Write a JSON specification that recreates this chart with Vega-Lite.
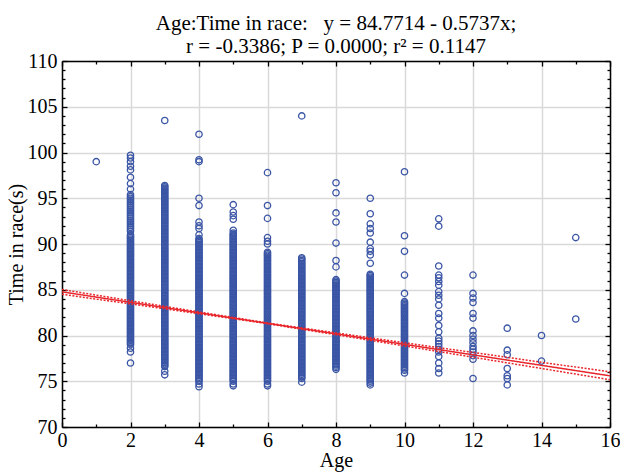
{
  "$schema": "https://vega.github.io/schema/vega-lite/v6.json",
  "width": 548,
  "height": 366,
  "autosize": {"type": "none"},
  "padding": {"left": 62, "top": 61, "right": 10, "bottom": 46},
  "background": "white",
  "config": {"font": "Liberation Serif", "view": {"stroke": null}},
  "title": {
    "text": ["Age:Time in race:\u00a0\u00a0 y = 84.7714 - 0.5737x;", "r = -0.3386; P = 0.0000; r\u00b2 = 0.1147"],
    "fontSize": 21, "fontWeight": "normal", "color": "black", "anchor": "middle", "frame": "group", "offset": -6, "lineHeight": 23, "font": "Liberation Serif"
  },
  "datasets": {
    "pts": [
      {"Age":1,"Time":99.0},
      {"Age":2,"Time":77.0},{"Age":2,"Time":78.2},{"Age":2,"Time":78.6},{"Age":2,"Time":79.0},{"Age":2,"Time":79.3},{"Age":2,"Time":79.6},{"Age":2,"Time":79.9},{"Age":2,"Time":80.2},{"Age":2,"Time":80.5},{"Age":2,"Time":80.8},{"Age":2,"Time":81.1},{"Age":2,"Time":81.4},{"Age":2,"Time":81.7},{"Age":2,"Time":82.0},{"Age":2,"Time":82.3},{"Age":2,"Time":82.6},{"Age":2,"Time":82.9},{"Age":2,"Time":83.2},{"Age":2,"Time":83.5},{"Age":2,"Time":83.8},{"Age":2,"Time":84.1},{"Age":2,"Time":84.4},{"Age":2,"Time":84.7},{"Age":2,"Time":85.0},{"Age":2,"Time":85.3},{"Age":2,"Time":85.6},{"Age":2,"Time":85.9},{"Age":2,"Time":86.2},{"Age":2,"Time":86.5},{"Age":2,"Time":86.8},{"Age":2,"Time":87.1},{"Age":2,"Time":87.4},{"Age":2,"Time":87.7},{"Age":2,"Time":88.0},{"Age":2,"Time":88.3},{"Age":2,"Time":88.6},{"Age":2,"Time":88.9},{"Age":2,"Time":89.2},{"Age":2,"Time":89.5},{"Age":2,"Time":89.8},{"Age":2,"Time":90.1},{"Age":2,"Time":90.4},{"Age":2,"Time":90.7},{"Age":2,"Time":91.0},{"Age":2,"Time":91.4},{"Age":2,"Time":91.8},{"Age":2,"Time":92.2},{"Age":2,"Time":92.6},{"Age":2,"Time":93.0},{"Age":2,"Time":93.4},{"Age":2,"Time":93.8},{"Age":2,"Time":94.2},{"Age":2,"Time":94.6},{"Age":2,"Time":95.0},{"Age":2,"Time":95.4},{"Age":2,"Time":96.0},{"Age":2,"Time":96.6},{"Age":2,"Time":97.3},{"Age":2,"Time":98.1},{"Age":2,"Time":98.5},{"Age":2,"Time":99.0},{"Age":2,"Time":99.4},{"Age":2,"Time":99.7},
      {"Age":2,"Time":79.15},{"Age":2,"Time":79.45},{"Age":2,"Time":79.75},{"Age":2,"Time":80.05},{"Age":2,"Time":80.35},{"Age":2,"Time":80.65},{"Age":2,"Time":80.95},{"Age":2,"Time":81.25},{"Age":2,"Time":81.55},{"Age":2,"Time":81.85},{"Age":2,"Time":82.15},{"Age":2,"Time":82.45},{"Age":2,"Time":82.75},{"Age":2,"Time":83.05},{"Age":2,"Time":83.35},{"Age":2,"Time":83.65},{"Age":2,"Time":83.95},{"Age":2,"Time":84.25},{"Age":2,"Time":84.55},{"Age":2,"Time":84.85},{"Age":2,"Time":85.15},{"Age":2,"Time":85.45},{"Age":2,"Time":85.75},{"Age":2,"Time":86.05},{"Age":2,"Time":86.35},{"Age":2,"Time":86.65},{"Age":2,"Time":86.95},{"Age":2,"Time":87.25},{"Age":2,"Time":87.55},{"Age":2,"Time":87.85},{"Age":2,"Time":88.15},{"Age":2,"Time":88.45},{"Age":2,"Time":88.75},{"Age":2,"Time":89.05},{"Age":2,"Time":89.35},{"Age":2,"Time":89.65},{"Age":2,"Time":89.95},{"Age":2,"Time":90.25},{"Age":2,"Time":90.55},{"Age":2,"Time":90.85},{"Age":2,"Time":91.6},{"Age":2,"Time":92.0},{"Age":2,"Time":92.4},{"Age":2,"Time":92.8},{"Age":2,"Time":93.2},{"Age":2,"Time":93.6},{"Age":2,"Time":94.0},{"Age":2,"Time":94.4},{"Age":2,"Time":94.8},{"Age":2,"Time":95.2},
      {"Age":3,"Time":75.7},{"Age":3,"Time":76.1},{"Age":3,"Time":76.6},{"Age":3,"Time":76.9},{"Age":3,"Time":77.2},{"Age":3,"Time":77.5},{"Age":3,"Time":77.8},{"Age":3,"Time":78.1},{"Age":3,"Time":78.4},{"Age":3,"Time":78.7},{"Age":3,"Time":79.0},{"Age":3,"Time":79.3},{"Age":3,"Time":79.6},{"Age":3,"Time":79.9},{"Age":3,"Time":80.2},{"Age":3,"Time":80.5},{"Age":3,"Time":80.8},{"Age":3,"Time":81.1},{"Age":3,"Time":81.4},{"Age":3,"Time":81.7},{"Age":3,"Time":82.0},{"Age":3,"Time":82.3},{"Age":3,"Time":82.6},{"Age":3,"Time":82.9},{"Age":3,"Time":83.2},{"Age":3,"Time":83.5},{"Age":3,"Time":83.8},{"Age":3,"Time":84.1},{"Age":3,"Time":84.4},{"Age":3,"Time":84.7},{"Age":3,"Time":85.0},{"Age":3,"Time":85.3},{"Age":3,"Time":85.6},{"Age":3,"Time":85.9},{"Age":3,"Time":86.2},{"Age":3,"Time":86.5},{"Age":3,"Time":86.8},{"Age":3,"Time":87.1},{"Age":3,"Time":87.4},{"Age":3,"Time":87.7},{"Age":3,"Time":88.0},{"Age":3,"Time":88.3},{"Age":3,"Time":88.6},{"Age":3,"Time":88.9},{"Age":3,"Time":89.2},{"Age":3,"Time":89.5},{"Age":3,"Time":89.8},{"Age":3,"Time":90.1},{"Age":3,"Time":90.4},{"Age":3,"Time":90.7},{"Age":3,"Time":91.0},{"Age":3,"Time":91.3},{"Age":3,"Time":91.6},{"Age":3,"Time":91.9},{"Age":3,"Time":92.2},{"Age":3,"Time":92.5},{"Age":3,"Time":92.8},{"Age":3,"Time":93.1},{"Age":3,"Time":93.4},{"Age":3,"Time":93.7},{"Age":3,"Time":94.0},{"Age":3,"Time":94.3},{"Age":3,"Time":94.6},{"Age":3,"Time":94.9},{"Age":3,"Time":95.2},{"Age":3,"Time":95.5},{"Age":3,"Time":95.8},{"Age":3,"Time":96.1},{"Age":3,"Time":96.4},{"Age":3,"Time":103.5},
      {"Age":3,"Time":76.75},{"Age":3,"Time":77.05},{"Age":3,"Time":77.35},{"Age":3,"Time":77.65},{"Age":3,"Time":77.95},{"Age":3,"Time":78.25},{"Age":3,"Time":78.55},{"Age":3,"Time":78.85},{"Age":3,"Time":79.15},{"Age":3,"Time":79.45},{"Age":3,"Time":79.75},{"Age":3,"Time":80.05},{"Age":3,"Time":80.35},{"Age":3,"Time":80.65},{"Age":3,"Time":80.95},{"Age":3,"Time":81.25},{"Age":3,"Time":81.55},{"Age":3,"Time":81.85},{"Age":3,"Time":82.15},{"Age":3,"Time":82.45},{"Age":3,"Time":82.75},{"Age":3,"Time":83.05},{"Age":3,"Time":83.35},{"Age":3,"Time":83.65},{"Age":3,"Time":83.95},{"Age":3,"Time":84.25},{"Age":3,"Time":84.55},{"Age":3,"Time":84.85},{"Age":3,"Time":85.15},{"Age":3,"Time":85.45},{"Age":3,"Time":85.75},{"Age":3,"Time":86.05},{"Age":3,"Time":86.35},{"Age":3,"Time":86.65},{"Age":3,"Time":86.95},{"Age":3,"Time":87.25},{"Age":3,"Time":87.55},{"Age":3,"Time":87.85},{"Age":3,"Time":88.15},{"Age":3,"Time":88.45},{"Age":3,"Time":88.75},{"Age":3,"Time":89.05},{"Age":3,"Time":89.35},{"Age":3,"Time":89.65},{"Age":3,"Time":89.95},{"Age":3,"Time":90.25},{"Age":3,"Time":90.55},{"Age":3,"Time":90.85},{"Age":3,"Time":91.15},{"Age":3,"Time":91.45},{"Age":3,"Time":91.75},{"Age":3,"Time":92.05},{"Age":3,"Time":92.35},{"Age":3,"Time":92.65},{"Age":3,"Time":92.95},{"Age":3,"Time":93.25},{"Age":3,"Time":93.55},{"Age":3,"Time":93.85},{"Age":3,"Time":94.15},{"Age":3,"Time":94.45},{"Age":3,"Time":94.75},{"Age":3,"Time":95.05},{"Age":3,"Time":95.35},{"Age":3,"Time":95.65},{"Age":3,"Time":95.95},{"Age":3,"Time":96.25},
      {"Age":4,"Time":74.4},{"Age":4,"Time":74.7},{"Age":4,"Time":75.0},{"Age":4,"Time":75.3},{"Age":4,"Time":75.6},{"Age":4,"Time":75.9},{"Age":4,"Time":76.2},{"Age":4,"Time":76.5},{"Age":4,"Time":76.8},{"Age":4,"Time":77.1},{"Age":4,"Time":77.4},{"Age":4,"Time":77.7},{"Age":4,"Time":78.0},{"Age":4,"Time":78.3},{"Age":4,"Time":78.6},{"Age":4,"Time":78.9},{"Age":4,"Time":79.2},{"Age":4,"Time":79.5},{"Age":4,"Time":79.8},{"Age":4,"Time":80.1},{"Age":4,"Time":80.4},{"Age":4,"Time":80.7},{"Age":4,"Time":81.0},{"Age":4,"Time":81.3},{"Age":4,"Time":81.6},{"Age":4,"Time":81.9},{"Age":4,"Time":82.2},{"Age":4,"Time":82.5},{"Age":4,"Time":82.8},{"Age":4,"Time":83.1},{"Age":4,"Time":83.4},{"Age":4,"Time":83.7},{"Age":4,"Time":84.0},{"Age":4,"Time":84.3},{"Age":4,"Time":84.6},{"Age":4,"Time":84.9},{"Age":4,"Time":85.2},{"Age":4,"Time":85.5},{"Age":4,"Time":85.8},{"Age":4,"Time":86.1},{"Age":4,"Time":86.4},{"Age":4,"Time":86.7},{"Age":4,"Time":87.0},{"Age":4,"Time":87.3},{"Age":4,"Time":87.6},{"Age":4,"Time":87.9},{"Age":4,"Time":88.2},{"Age":4,"Time":88.5},{"Age":4,"Time":88.8},{"Age":4,"Time":89.1},{"Age":4,"Time":89.4},{"Age":4,"Time":89.7},{"Age":4,"Time":90.0},{"Age":4,"Time":90.3},{"Age":4,"Time":90.6},{"Age":4,"Time":91.0},{"Age":4,"Time":91.7},{"Age":4,"Time":92.0},{"Age":4,"Time":92.4},{"Age":4,"Time":94.2},{"Age":4,"Time":95.0},{"Age":4,"Time":99.0},{"Age":4,"Time":99.2},{"Age":4,"Time":102.0},
      {"Age":4,"Time":75.15},{"Age":4,"Time":75.45},{"Age":4,"Time":75.75},{"Age":4,"Time":76.05},{"Age":4,"Time":76.35},{"Age":4,"Time":76.65},{"Age":4,"Time":76.95},{"Age":4,"Time":77.25},{"Age":4,"Time":77.55},{"Age":4,"Time":77.85},{"Age":4,"Time":78.15},{"Age":4,"Time":78.45},{"Age":4,"Time":78.75},{"Age":4,"Time":79.05},{"Age":4,"Time":79.35},{"Age":4,"Time":79.65},{"Age":4,"Time":79.95},{"Age":4,"Time":80.25},{"Age":4,"Time":80.55},{"Age":4,"Time":80.85},{"Age":4,"Time":81.15},{"Age":4,"Time":81.45},{"Age":4,"Time":81.75},{"Age":4,"Time":82.05},{"Age":4,"Time":82.35},{"Age":4,"Time":82.65},{"Age":4,"Time":82.95},{"Age":4,"Time":83.25},{"Age":4,"Time":83.55},{"Age":4,"Time":83.85},{"Age":4,"Time":84.15},{"Age":4,"Time":84.45},{"Age":4,"Time":84.75},{"Age":4,"Time":85.05},{"Age":4,"Time":85.35},{"Age":4,"Time":85.65},{"Age":4,"Time":85.95},{"Age":4,"Time":86.25},{"Age":4,"Time":86.55},{"Age":4,"Time":86.85},{"Age":4,"Time":87.15},{"Age":4,"Time":87.45},{"Age":4,"Time":87.75},{"Age":4,"Time":88.05},{"Age":4,"Time":88.35},{"Age":4,"Time":88.65},{"Age":4,"Time":88.95},{"Age":4,"Time":89.25},{"Age":4,"Time":89.55},{"Age":4,"Time":89.85},{"Age":4,"Time":90.15},{"Age":4,"Time":90.45},
      {"Age":5,"Time":74.5},{"Age":5,"Time":74.7},{"Age":5,"Time":75.0},{"Age":5,"Time":75.3},{"Age":5,"Time":75.6},{"Age":5,"Time":75.9},{"Age":5,"Time":76.2},{"Age":5,"Time":76.5},{"Age":5,"Time":76.8},{"Age":5,"Time":77.1},{"Age":5,"Time":77.4},{"Age":5,"Time":77.7},{"Age":5,"Time":78.0},{"Age":5,"Time":78.3},{"Age":5,"Time":78.6},{"Age":5,"Time":78.9},{"Age":5,"Time":79.2},{"Age":5,"Time":79.5},{"Age":5,"Time":79.8},{"Age":5,"Time":80.1},{"Age":5,"Time":80.4},{"Age":5,"Time":80.7},{"Age":5,"Time":81.0},{"Age":5,"Time":81.3},{"Age":5,"Time":81.6},{"Age":5,"Time":81.9},{"Age":5,"Time":82.2},{"Age":5,"Time":82.5},{"Age":5,"Time":82.8},{"Age":5,"Time":83.1},{"Age":5,"Time":83.4},{"Age":5,"Time":83.7},{"Age":5,"Time":84.0},{"Age":5,"Time":84.3},{"Age":5,"Time":84.6},{"Age":5,"Time":84.9},{"Age":5,"Time":85.2},{"Age":5,"Time":85.5},{"Age":5,"Time":85.8},{"Age":5,"Time":86.1},{"Age":5,"Time":86.4},{"Age":5,"Time":86.7},{"Age":5,"Time":87.0},{"Age":5,"Time":87.3},{"Age":5,"Time":87.6},{"Age":5,"Time":87.9},{"Age":5,"Time":88.2},{"Age":5,"Time":88.5},{"Age":5,"Time":88.8},{"Age":5,"Time":89.1},{"Age":5,"Time":89.4},{"Age":5,"Time":89.7},{"Age":5,"Time":90.0},{"Age":5,"Time":90.3},{"Age":5,"Time":90.6},{"Age":5,"Time":90.9},{"Age":5,"Time":91.2},{"Age":5,"Time":91.5},{"Age":5,"Time":92.7},{"Age":5,"Time":93.1},{"Age":5,"Time":93.5},{"Age":5,"Time":94.3},
      {"Age":5,"Time":75.15},{"Age":5,"Time":75.45},{"Age":5,"Time":75.75},{"Age":5,"Time":76.05},{"Age":5,"Time":76.35},{"Age":5,"Time":76.65},{"Age":5,"Time":76.95},{"Age":5,"Time":77.25},{"Age":5,"Time":77.55},{"Age":5,"Time":77.85},{"Age":5,"Time":78.15},{"Age":5,"Time":78.45},{"Age":5,"Time":78.75},{"Age":5,"Time":79.05},{"Age":5,"Time":79.35},{"Age":5,"Time":79.65},{"Age":5,"Time":79.95},{"Age":5,"Time":80.25},{"Age":5,"Time":80.55},{"Age":5,"Time":80.85},{"Age":5,"Time":81.15},{"Age":5,"Time":81.45},{"Age":5,"Time":81.75},{"Age":5,"Time":82.05},{"Age":5,"Time":82.35},{"Age":5,"Time":82.65},{"Age":5,"Time":82.95},{"Age":5,"Time":83.25},{"Age":5,"Time":83.55},{"Age":5,"Time":83.85},{"Age":5,"Time":84.15},{"Age":5,"Time":84.45},{"Age":5,"Time":84.75},{"Age":5,"Time":85.05},{"Age":5,"Time":85.35},{"Age":5,"Time":85.65},{"Age":5,"Time":85.95},{"Age":5,"Time":86.25},{"Age":5,"Time":86.55},{"Age":5,"Time":86.85},{"Age":5,"Time":87.15},{"Age":5,"Time":87.45},{"Age":5,"Time":87.75},{"Age":5,"Time":88.05},{"Age":5,"Time":88.35},{"Age":5,"Time":88.65},{"Age":5,"Time":88.95},{"Age":5,"Time":89.25},{"Age":5,"Time":89.55},{"Age":5,"Time":89.85},{"Age":5,"Time":90.15},{"Age":5,"Time":90.45},{"Age":5,"Time":90.75},{"Age":5,"Time":91.05},
      {"Age":6,"Time":74.5},{"Age":6,"Time":74.7},{"Age":6,"Time":75.0},{"Age":6,"Time":75.3},{"Age":6,"Time":75.6},{"Age":6,"Time":75.9},{"Age":6,"Time":76.2},{"Age":6,"Time":76.5},{"Age":6,"Time":76.8},{"Age":6,"Time":77.1},{"Age":6,"Time":77.4},{"Age":6,"Time":77.7},{"Age":6,"Time":78.0},{"Age":6,"Time":78.3},{"Age":6,"Time":78.6},{"Age":6,"Time":78.9},{"Age":6,"Time":79.2},{"Age":6,"Time":79.5},{"Age":6,"Time":79.8},{"Age":6,"Time":80.1},{"Age":6,"Time":80.4},{"Age":6,"Time":80.7},{"Age":6,"Time":81.0},{"Age":6,"Time":81.3},{"Age":6,"Time":81.6},{"Age":6,"Time":81.9},{"Age":6,"Time":82.2},{"Age":6,"Time":82.5},{"Age":6,"Time":82.8},{"Age":6,"Time":83.1},{"Age":6,"Time":83.4},{"Age":6,"Time":83.7},{"Age":6,"Time":84.0},{"Age":6,"Time":84.3},{"Age":6,"Time":84.6},{"Age":6,"Time":84.9},{"Age":6,"Time":85.2},{"Age":6,"Time":85.5},{"Age":6,"Time":85.8},{"Age":6,"Time":86.1},{"Age":6,"Time":86.4},{"Age":6,"Time":86.7},{"Age":6,"Time":87.0},{"Age":6,"Time":87.3},{"Age":6,"Time":87.6},{"Age":6,"Time":87.9},{"Age":6,"Time":88.2},{"Age":6,"Time":88.5},{"Age":6,"Time":88.8},{"Age":6,"Time":89.1},{"Age":6,"Time":90.0},{"Age":6,"Time":90.3},{"Age":6,"Time":90.7},{"Age":6,"Time":92.8},{"Age":6,"Time":94.2},{"Age":6,"Time":97.8},
      {"Age":6,"Time":75.15},{"Age":6,"Time":75.45},{"Age":6,"Time":75.75},{"Age":6,"Time":76.05},{"Age":6,"Time":76.35},{"Age":6,"Time":76.65},{"Age":6,"Time":76.95},{"Age":6,"Time":77.25},{"Age":6,"Time":77.55},{"Age":6,"Time":77.85},{"Age":6,"Time":78.15},{"Age":6,"Time":78.45},{"Age":6,"Time":78.75},{"Age":6,"Time":79.05},{"Age":6,"Time":79.35},{"Age":6,"Time":79.65},{"Age":6,"Time":79.95},{"Age":6,"Time":80.25},{"Age":6,"Time":80.55},{"Age":6,"Time":80.85},{"Age":6,"Time":81.15},{"Age":6,"Time":81.45},{"Age":6,"Time":81.75},{"Age":6,"Time":82.05},{"Age":6,"Time":82.35},{"Age":6,"Time":82.65},{"Age":6,"Time":82.95},{"Age":6,"Time":83.25},{"Age":6,"Time":83.55},{"Age":6,"Time":83.85},{"Age":6,"Time":84.15},{"Age":6,"Time":84.45},{"Age":6,"Time":84.75},{"Age":6,"Time":85.05},{"Age":6,"Time":85.35},{"Age":6,"Time":85.65},{"Age":6,"Time":85.95},{"Age":6,"Time":86.25},{"Age":6,"Time":86.55},{"Age":6,"Time":86.85},{"Age":6,"Time":87.15},{"Age":6,"Time":87.45},{"Age":6,"Time":87.75},{"Age":6,"Time":88.05},{"Age":6,"Time":88.35},{"Age":6,"Time":88.65},{"Age":6,"Time":88.95},
      {"Age":7,"Time":74.9},{"Age":7,"Time":75.3},{"Age":7,"Time":75.6},{"Age":7,"Time":75.9},{"Age":7,"Time":76.2},{"Age":7,"Time":76.5},{"Age":7,"Time":76.8},{"Age":7,"Time":77.1},{"Age":7,"Time":77.4},{"Age":7,"Time":77.7},{"Age":7,"Time":78.0},{"Age":7,"Time":78.3},{"Age":7,"Time":78.6},{"Age":7,"Time":78.9},{"Age":7,"Time":79.2},{"Age":7,"Time":79.5},{"Age":7,"Time":79.8},{"Age":7,"Time":80.1},{"Age":7,"Time":80.4},{"Age":7,"Time":80.7},{"Age":7,"Time":81.0},{"Age":7,"Time":81.3},{"Age":7,"Time":81.6},{"Age":7,"Time":81.9},{"Age":7,"Time":82.2},{"Age":7,"Time":82.5},{"Age":7,"Time":82.8},{"Age":7,"Time":83.1},{"Age":7,"Time":83.4},{"Age":7,"Time":83.7},{"Age":7,"Time":84.0},{"Age":7,"Time":84.3},{"Age":7,"Time":84.6},{"Age":7,"Time":84.9},{"Age":7,"Time":85.2},{"Age":7,"Time":85.5},{"Age":7,"Time":85.8},{"Age":7,"Time":86.1},{"Age":7,"Time":86.4},{"Age":7,"Time":86.7},{"Age":7,"Time":87.0},{"Age":7,"Time":87.3},{"Age":7,"Time":87.6},{"Age":7,"Time":87.9},{"Age":7,"Time":88.2},{"Age":7,"Time":88.5},{"Age":7,"Time":104.0},
      {"Age":7,"Time":75.45},{"Age":7,"Time":75.75},{"Age":7,"Time":76.05},{"Age":7,"Time":76.35},{"Age":7,"Time":76.65},{"Age":7,"Time":76.95},{"Age":7,"Time":77.25},{"Age":7,"Time":77.55},{"Age":7,"Time":77.85},{"Age":7,"Time":78.15},{"Age":7,"Time":78.45},{"Age":7,"Time":78.75},{"Age":7,"Time":79.05},{"Age":7,"Time":79.35},{"Age":7,"Time":79.65},{"Age":7,"Time":79.95},{"Age":7,"Time":80.25},{"Age":7,"Time":80.55},{"Age":7,"Time":80.85},{"Age":7,"Time":81.15},{"Age":7,"Time":81.45},{"Age":7,"Time":81.75},{"Age":7,"Time":82.05},{"Age":7,"Time":82.35},{"Age":7,"Time":82.65},{"Age":7,"Time":82.95},{"Age":7,"Time":83.25},{"Age":7,"Time":83.55},{"Age":7,"Time":83.85},{"Age":7,"Time":84.15},{"Age":7,"Time":84.45},{"Age":7,"Time":84.75},{"Age":7,"Time":85.05},{"Age":7,"Time":85.35},{"Age":7,"Time":85.65},{"Age":7,"Time":85.95},{"Age":7,"Time":86.25},{"Age":7,"Time":86.55},{"Age":7,"Time":86.85},{"Age":7,"Time":87.15},{"Age":7,"Time":87.45},{"Age":7,"Time":87.75},{"Age":7,"Time":88.05},{"Age":7,"Time":88.35},
      {"Age":8,"Time":76.3},{"Age":8,"Time":76.5},{"Age":8,"Time":76.8},{"Age":8,"Time":77.1},{"Age":8,"Time":77.4},{"Age":8,"Time":77.7},{"Age":8,"Time":78.0},{"Age":8,"Time":78.3},{"Age":8,"Time":78.6},{"Age":8,"Time":78.9},{"Age":8,"Time":79.2},{"Age":8,"Time":79.5},{"Age":8,"Time":79.8},{"Age":8,"Time":80.1},{"Age":8,"Time":80.4},{"Age":8,"Time":80.7},{"Age":8,"Time":81.0},{"Age":8,"Time":81.3},{"Age":8,"Time":81.6},{"Age":8,"Time":81.9},{"Age":8,"Time":82.2},{"Age":8,"Time":82.5},{"Age":8,"Time":82.8},{"Age":8,"Time":83.1},{"Age":8,"Time":83.4},{"Age":8,"Time":83.7},{"Age":8,"Time":84.0},{"Age":8,"Time":84.3},{"Age":8,"Time":84.6},{"Age":8,"Time":84.9},{"Age":8,"Time":85.2},{"Age":8,"Time":85.5},{"Age":8,"Time":85.8},{"Age":8,"Time":86.1},{"Age":8,"Time":87.5},{"Age":8,"Time":88.2},{"Age":8,"Time":90.1},{"Age":8,"Time":92.4},{"Age":8,"Time":93.4},{"Age":8,"Time":95.6},{"Age":8,"Time":96.7},
      {"Age":8,"Time":76.65},{"Age":8,"Time":76.95},{"Age":8,"Time":77.25},{"Age":8,"Time":77.55},{"Age":8,"Time":77.85},{"Age":8,"Time":78.15},{"Age":8,"Time":78.45},{"Age":8,"Time":78.75},{"Age":8,"Time":79.05},{"Age":8,"Time":79.35},{"Age":8,"Time":79.65},{"Age":8,"Time":79.95},{"Age":8,"Time":80.25},{"Age":8,"Time":80.55},{"Age":8,"Time":80.85},{"Age":8,"Time":81.15},{"Age":8,"Time":81.45},{"Age":8,"Time":81.75},{"Age":8,"Time":82.05},{"Age":8,"Time":82.35},{"Age":8,"Time":82.65},{"Age":8,"Time":82.95},{"Age":8,"Time":83.25},{"Age":8,"Time":83.55},{"Age":8,"Time":83.85},{"Age":8,"Time":84.15},{"Age":8,"Time":84.45},{"Age":8,"Time":84.75},{"Age":8,"Time":85.05},{"Age":8,"Time":85.35},{"Age":8,"Time":85.65},{"Age":8,"Time":85.95},
      {"Age":9,"Time":74.6},{"Age":9,"Time":74.8},{"Age":9,"Time":75.0},{"Age":9,"Time":75.3},{"Age":9,"Time":75.6},{"Age":9,"Time":75.9},{"Age":9,"Time":76.2},{"Age":9,"Time":76.5},{"Age":9,"Time":76.8},{"Age":9,"Time":77.1},{"Age":9,"Time":77.4},{"Age":9,"Time":77.7},{"Age":9,"Time":78.0},{"Age":9,"Time":78.3},{"Age":9,"Time":78.6},{"Age":9,"Time":78.9},{"Age":9,"Time":79.2},{"Age":9,"Time":79.5},{"Age":9,"Time":79.8},{"Age":9,"Time":80.1},{"Age":9,"Time":80.4},{"Age":9,"Time":80.7},{"Age":9,"Time":81.0},{"Age":9,"Time":81.3},{"Age":9,"Time":81.6},{"Age":9,"Time":81.9},{"Age":9,"Time":82.2},{"Age":9,"Time":82.5},{"Age":9,"Time":82.8},{"Age":9,"Time":83.1},{"Age":9,"Time":83.4},{"Age":9,"Time":83.7},{"Age":9,"Time":84.0},{"Age":9,"Time":84.3},{"Age":9,"Time":84.6},{"Age":9,"Time":84.9},{"Age":9,"Time":85.2},{"Age":9,"Time":85.5},{"Age":9,"Time":85.8},{"Age":9,"Time":86.1},{"Age":9,"Time":86.4},{"Age":9,"Time":86.7},{"Age":9,"Time":87.9},{"Age":9,"Time":88.8},{"Age":9,"Time":89.2},{"Age":9,"Time":89.5},{"Age":9,"Time":90.2},{"Age":9,"Time":91.2},{"Age":9,"Time":91.7},{"Age":9,"Time":92.2},{"Age":9,"Time":93.3},{"Age":9,"Time":95.0},
      {"Age":9,"Time":75.15},{"Age":9,"Time":75.45},{"Age":9,"Time":75.75},{"Age":9,"Time":76.05},{"Age":9,"Time":76.35},{"Age":9,"Time":76.65},{"Age":9,"Time":76.95},{"Age":9,"Time":77.25},{"Age":9,"Time":77.55},{"Age":9,"Time":77.85},{"Age":9,"Time":78.15},{"Age":9,"Time":78.45},{"Age":9,"Time":78.75},{"Age":9,"Time":79.05},{"Age":9,"Time":79.35},{"Age":9,"Time":79.65},{"Age":9,"Time":79.95},{"Age":9,"Time":80.25},{"Age":9,"Time":80.55},{"Age":9,"Time":80.85},{"Age":9,"Time":81.15},{"Age":9,"Time":81.45},{"Age":9,"Time":81.75},{"Age":9,"Time":82.05},{"Age":9,"Time":82.35},{"Age":9,"Time":82.65},{"Age":9,"Time":82.95},{"Age":9,"Time":83.25},{"Age":9,"Time":83.55},{"Age":9,"Time":83.85},{"Age":9,"Time":84.15},{"Age":9,"Time":84.45},{"Age":9,"Time":84.75},{"Age":9,"Time":85.05},{"Age":9,"Time":85.35},{"Age":9,"Time":85.65},{"Age":9,"Time":85.95},{"Age":9,"Time":86.25},{"Age":9,"Time":86.55},
      {"Age":10,"Time":75.9},{"Age":10,"Time":76.2},{"Age":10,"Time":76.5},{"Age":10,"Time":76.8},{"Age":10,"Time":77.1},{"Age":10,"Time":77.4},{"Age":10,"Time":77.7},{"Age":10,"Time":78.0},{"Age":10,"Time":78.3},{"Age":10,"Time":78.6},{"Age":10,"Time":78.9},{"Age":10,"Time":79.2},{"Age":10,"Time":79.5},{"Age":10,"Time":79.8},{"Age":10,"Time":80.1},{"Age":10,"Time":80.4},{"Age":10,"Time":80.7},{"Age":10,"Time":81.0},{"Age":10,"Time":81.3},{"Age":10,"Time":81.6},{"Age":10,"Time":81.9},{"Age":10,"Time":82.2},{"Age":10,"Time":82.5},{"Age":10,"Time":82.8},{"Age":10,"Time":83.1},{"Age":10,"Time":83.4},{"Age":10,"Time":83.7},{"Age":10,"Time":84.6},{"Age":10,"Time":86.6},{"Age":10,"Time":89.2},{"Age":10,"Time":90.9},{"Age":10,"Time":97.9},
      {"Age":10,"Time":76.35},{"Age":10,"Time":76.65},{"Age":10,"Time":76.95},{"Age":10,"Time":77.25},{"Age":10,"Time":77.55},{"Age":10,"Time":77.85},{"Age":10,"Time":78.15},{"Age":10,"Time":78.45},{"Age":10,"Time":78.75},{"Age":10,"Time":79.05},{"Age":10,"Time":79.35},{"Age":10,"Time":79.65},{"Age":10,"Time":79.95},{"Age":10,"Time":80.25},{"Age":10,"Time":80.55},{"Age":10,"Time":80.85},{"Age":10,"Time":81.15},{"Age":10,"Time":81.45},{"Age":10,"Time":81.75},{"Age":10,"Time":82.05},{"Age":10,"Time":82.35},{"Age":10,"Time":82.65},{"Age":10,"Time":82.95},{"Age":10,"Time":83.25},{"Age":10,"Time":83.55},
      {"Age":11,"Time":75.9},{"Age":11,"Time":76.4},{"Age":11,"Time":77.0},{"Age":11,"Time":77.7},{"Age":11,"Time":78.2},{"Age":11,"Time":78.5},{"Age":11,"Time":78.8},{"Age":11,"Time":79.1},{"Age":11,"Time":79.4},{"Age":11,"Time":79.7},{"Age":11,"Time":80.4},{"Age":11,"Time":81.1},{"Age":11,"Time":81.9},{"Age":11,"Time":82.4},{"Age":11,"Time":83.3},{"Age":11,"Time":84.0},{"Age":11,"Time":84.4},{"Age":11,"Time":84.8},{"Age":11,"Time":85.5},{"Age":11,"Time":85.9},{"Age":11,"Time":86.3},{"Age":11,"Time":86.6},{"Age":11,"Time":87.6},{"Age":11,"Time":91.95},{"Age":11,"Time":92.75},
      {"Age":12,"Time":75.3},{"Age":12,"Time":77.4},{"Age":12,"Time":77.8},{"Age":12,"Time":78.2},{"Age":12,"Time":78.5},{"Age":12,"Time":78.8},{"Age":12,"Time":79.2},{"Age":12,"Time":79.6},{"Age":12,"Time":80.0},{"Age":12,"Time":80.5},{"Age":12,"Time":81.9},{"Age":12,"Time":82.4},{"Age":12,"Time":83.6},{"Age":12,"Time":84.1},{"Age":12,"Time":84.6},{"Age":12,"Time":86.6},
      {"Age":13,"Time":74.6},{"Age":13,"Time":75.3},{"Age":13,"Time":75.6},{"Age":13,"Time":76.4},{"Age":13,"Time":77.9},{"Age":13,"Time":78.4},{"Age":13,"Time":80.8},
      {"Age":14,"Time":77.2},{"Age":14,"Time":80.0},
      {"Age":15,"Time":81.8},{"Age":15,"Time":90.7}
    ],
    "lines": [
      {"Age":0,"Time":84.771,"s":"fit"},{"Age":16,"Time":75.592,"s":"fit"},
      {"Age":0,"Time":85.029,"s":"upper"},{"Age":2,"Time":83.799,"s":"upper"},{"Age":4,"Time":82.572,"s":"upper"},{"Age":6,"Time":81.374,"s":"upper"},{"Age":8,"Time":80.277,"s":"upper"},{"Age":10,"Time":79.209,"s":"upper"},{"Age":12,"Time":78.145,"s":"upper"},{"Age":14,"Time":77.081,"s":"upper"},{"Age":16,"Time":76.019,"s":"upper"},
      {"Age":0,"Time":84.513,"s":"lower"},{"Age":2,"Time":83.449,"s":"lower"},{"Age":4,"Time":82.380,"s":"lower"},{"Age":6,"Time":81.284,"s":"lower"},{"Age":8,"Time":80.085,"s":"lower"},{"Age":10,"Time":78.859,"s":"lower"},{"Age":12,"Time":77.629,"s":"lower"},{"Age":14,"Time":76.397,"s":"lower"},{"Age":16,"Time":75.165,"s":"lower"}
    ]
  },
  "layer": [
    {
      "data": {"name": "pts"},
      "mark": {"type": "point", "shape": "circle", "filled": false, "size": 40, "strokeWidth": 1.3, "color": "#3a55a5", "opacity": 1},
      "encoding": {
        "x": {
          "field": "Age", "type": "quantitative",
          "scale": {"domain": [0, 16], "nice": false, "zero": false},
          "axis": {
            "orient": "bottom", "title": "Age",
            "values": [0,1,2,3,4,5,6,7,8,9,10,11,12,13,14,15,16],
            "labelExpr": "datum.value % 2 == 0 ? datum.label : ''",
            "labelFont": "Liberation Serif", "labelFontSize": 20, "labelColor": "black", "labelPadding": 8, "labelFlush": false,
            "tickSize": {"condition": {"test": "datum.value % 2 == 0", "value": -5}, "value": -3},
            "tickColor": "black", "tickWidth": 1.3,
            "grid": true, "gridColor": "#d9d9d9", "gridWidth": 1.5,
            "gridOpacity": {"condition": {"test": "datum.value % 2 == 0", "value": 1}, "value": 0},
            "domainColor": "black", "domainWidth": 1.5,
            "titleFont": "Liberation Serif", "titleFontSize": 20, "titleFontWeight": "normal", "titleColor": "black", "titlePadding": 0
          }
        },
        "y": {
          "field": "Time", "type": "quantitative",
          "scale": {"domain": [70, 110], "nice": false, "zero": false},
          "axis": {
            "orient": "left", "title": "Time in race(s)",
            "values": [70,71,72,73,74,75,76,77,78,79,80,81,82,83,84,85,86,87,88,89,90,91,92,93,94,95,96,97,98,99,100,101,102,103,104,105,106,107,108,109,110],
            "labelExpr": "datum.value % 5 == 0 ? datum.label : ''",
            "labelFont": "Liberation Serif", "labelFontSize": 20, "labelColor": "black", "labelPadding": 10, "labelFlush": false,
            "tickSize": {"condition": {"test": "datum.value % 5 == 0", "value": -5}, "value": -3},
            "tickColor": "black", "tickWidth": 1.3,
            "grid": true, "gridColor": "#d9d9d9", "gridWidth": 1.5,
            "gridOpacity": {"condition": {"test": "datum.value % 5 == 0", "value": 1}, "value": 0},
            "domainColor": "black", "domainWidth": 1.5,
            "titleFont": "Liberation Serif", "titleFontSize": 20, "titleFontWeight": "normal", "titleColor": "black", "titlePadding": 1
          }
        }
      }
    },
    {
      "data": {"name": "lines"},
      "mark": {"type": "line", "color": "#e8262b", "strokeWidth": 1.5},
      "encoding": {
        "x": {
          "field": "Age", "type": "quantitative",
          "scale": {"domain": [0, 16], "nice": false, "zero": false},
          "axis": {
            "orient": "top", "title": null, "labels": false, "grid": false,
            "values": [0,1,2,3,4,5,6,7,8,9,10,11,12,13,14,15,16],
            "tickSize": {"condition": {"test": "datum.value % 2 == 0", "value": -5}, "value": -3},
            "tickColor": "black", "tickWidth": 1.3,
            "domainColor": "black", "domainWidth": 1.5
          }
        },
        "y": {
          "field": "Time", "type": "quantitative",
          "scale": {"domain": [70, 110], "nice": false, "zero": false},
          "axis": {
            "orient": "right", "title": null, "labels": false, "grid": false,
            "values": [70,71,72,73,74,75,76,77,78,79,80,81,82,83,84,85,86,87,88,89,90,91,92,93,94,95,96,97,98,99,100,101,102,103,104,105,106,107,108,109,110],
            "tickSize": {"condition": {"test": "datum.value % 5 == 0", "value": -5}, "value": -3},
            "tickColor": "black", "tickWidth": 1.3,
            "domainColor": "black", "domainWidth": 1.5
          }
        },
        "detail": {"field": "s", "type": "nominal"},
        "strokeDash": {"field": "s", "type": "nominal", "scale": {"domain": ["fit", "lower", "upper"], "range": [[1, 0], [2, 1.5], [2, 1.5]]}, "legend": null}
      }
    }
  ],
  "resolve": {"axis": {"x": "independent", "y": "independent"}}
}
